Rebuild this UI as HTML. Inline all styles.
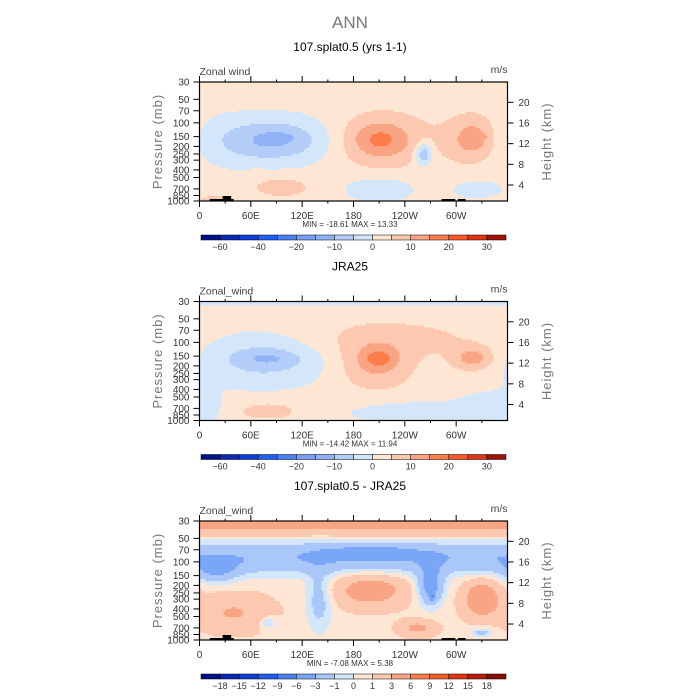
<!DOCTYPE html>
<html><head><meta charset="utf-8"><style>
html,body{margin:0;padding:0;background:#fff;}
svg{display:block;font-family:"Liberation Sans",sans-serif;}
</style></head><body>
<svg id="chart" width="700" height="700" viewBox="0 0 700 700">
<text x="350" y="28" text-anchor="middle" font-size="17" fill="#777">ANN</text>
</svg>
<script>
const colorsMain=['#00108a','#0a28b4','#0c3fd8','#1f5ff5','#4a80f5','#779ff6','#8fb2f7','#b4cdf8','#d4e6fa','#fde6d4','#fcc9b0','#f9a482','#fc7c4a','#f85a26','#e03414','#a01008'];
const colorsDiff=['#00108a','#0a28b4','#0c3fd8','#1f5ff5','#4a80f5','#7aa6f8','#a9c7f8','#d4e6fa','#fde6d4','#fcc9b0','#f9a482','#fc7c4a','#f85a26','#e03414','#b81d0a','#8a0a05'];
const levelsMain=[-60,-50,-40,-30,-20,-15,-10,-5,0,5,10,15,20,25,30];
const labelsMain=['-60','','-40','','-20','','-10','','0','','10','','20','','30'];
const levelsDiff=[-18,-15,-12,-9,-6,-3,-1,0,1,3,6,9,12,15,18];
const labelsDiff=['-18','-15','-12','-9','-6','-3','-1','0','1','3','6','9','12','15','18'];
const pressureTicks=[30,50,70,100,150,200,250,300,400,500,700,850,1000];
const heightTicks=[4,8,12,16,20];
const lonTicks=[0,60,120,180,240,300];
const lonLabels=['0','60E','120E','180','120W','60W'];
// features: [lon, pressure, lonWidth, logPWidth, amplitude]
const bg1=2.5;
const features1=[[75,170,90,0.35,-9],[90,165,50,0.2,-5],[95,150,20,0.05,-2],
[210,170,55,0.35,9],[210,160,30,0.2,6],
[320,160,35,0.33,8],[320,160,18,0.18,5],[330,150,6,0.03,3],
[262,250,10,0.14,-14],[95,650,40,0.15,5],[68,430,6,0.05,4],[15,950,25,0.06,4],
[210,700,45,0.18,-6],[325,720,30,0.12,-6]];
const bg2=2.5;
const features2=[[180,31,1e9,0.05,-4],[225,90,110,0.25,4],[205,190,40,0.3,9],[210,160,18,0.1,7],
[320,160,25,0.15,10],[75,170,75,0.35,-9],[80,160,35,0.1,-5],[10,600,12,0.4,-4],[80,750,40,0.12,5],
[250,800,80,0.15,-6],[340,650,40,0.2,-5]];
const bg3=0.7;
const features3=[[180,32,1e9,0.05,5],[180,40,1e9,0.07,2],[180,90,1e9,0.2,-3.5],[200,75,60,0.1,-2.5],
[20,130,25,0.15,-3],[140,300,15,0.4,-2.5],[270,200,15,0.25,-5],[272,280,3,0.05,-4],
[200,230,40,0.2,4],[330,300,20,0.22,5],[40,450,40,0.22,2.5],[255,700,20,0.1,3],
[330,800,12,0.06,-2.5],[80,600,10,0.08,-2]];
const topo=[[12,40,2],[27,37,5],[283,299,2],[302,311,2]];

const NS='http://www.w3.org/2000/svg';
const svg=document.getElementById('chart');
function mk(tag,attrs,parent){const e=document.createElementNS(NS,tag);for(const k in attrs)e.setAttribute(k,attrs[k]);(parent||svg).appendChild(e);return e;}
const X0=199.5,W=308,H=119;
const L30=Math.log10(30),L1000=Math.log10(1000);
function panel(top,title,varName,bg,feats,levels,labels,colors,mn,mx,showTopo,pname){
  const g=mk('g',{});
  
  
  const xs=lon=>X0+lon/360*W;
  const ys=p=>top+(Math.log10(p)-L30)/(L1000-L30)*H;
  const t=mk('text',{x:350,y:top-31,'text-anchor':'middle','font-size':12,fill:'#000'},g);t.textContent=title;
  
  const v=mk('text',{x:X0,y:top-7,'font-size':10.5,fill:'#444'},g);v.textContent=varName;
  
  const u=mk('text',{x:X0+W,y:top-9,'text-anchor':'end','font-size':10.5,fill:'#444'},g);u.textContent='m/s';
  
  const field=(lon,p)=>{let s=bg;const lp=Math.log10(p);for(const f of feats){let dl=Math.abs(lon-f[0]);if(dl>180)dl=360-dl;s+=f[4]*Math.exp(-Math.pow(dl/f[2],2)-Math.pow((lp-Math.log10(f[1]))/f[3],2));}return s;};
  const bin=val=>{let i=0;while(i<levels.length&&val>=levels[i])i++;return i;};
  const fg=mk('g',{'shape-rendering':'crispEdges'},g);
  
  const cs=2,nx=Math.ceil(W/cs),ny=Math.ceil(H/cs);
  for(let j=0;j<ny;j++){
    const yy=top+j*cs+cs/2;
    const p=Math.pow(10,L30+(yy-top)/H*(L1000-L30));
    let start=0,cur=-1;
    for(let i=0;i<=nx;i++){
      const b=i<nx?bin(field((i*cs+cs/2)/W*360,p)):-2;
      if(b!==cur){
        if(cur>=0){mk('rect',{x:X0+start*cs,y:top+j*cs,width:Math.min((i-start)*cs,W-start*cs),height:Math.min(cs,H-j*cs),fill:colors[cur]},fg);}
        cur=b;start=i;
      }
    }
  }
  if(showTopo){for(const tp of topo){const r=mk('rect',{x:xs(tp[0]),y:top+H-tp[2],width:xs(tp[1])-xs(tp[0]),height:tp[2],fill:'#000'},g);}}
  const fr=mk('rect',{x:X0,y:top,width:W,height:H,fill:'none',stroke:'#000','stroke-width':1.2},g);
  
  for(let lon=0;lon<360;lon+=30){const x=xs(lon);const len=lon%60===0?6:2.5;
    mk('line',{x1:x,x2:x,y1:top,y2:top-len,stroke:'#000'},g);mk('line',{x1:x,x2:x,y1:top+H,y2:top+H+len,stroke:'#000'},g);}
  lonTicks.forEach((lon,i)=>{const tx=mk('text',{x:xs(lon),y:top+H+18,'text-anchor':'middle','font-size':10,fill:'#333'},g);tx.textContent=lonLabels[i];
    });
  pressureTicks.forEach(p=>{const y=ys(p);mk('line',{x1:X0,x2:X0-6,y1:y,y2:y,stroke:'#000'},g);
    const tx=mk('text',{x:X0-10,y:y+3.5,'text-anchor':'end','font-size':10,fill:'#333'},g);tx.textContent=p;
    });
  heightTicks.forEach(h=>{const y=top+123.7-5.17*h;mk('line',{x1:X0+W,x2:X0+W+6,y1:y,y2:y,stroke:'#000'},g);
    const tx=mk('text',{x:X0+W+11,y:y+3.5,'font-size':10,fill:'#333'},g);tx.textContent=h;
    });
  const pl=mk('text',{transform:`translate(162,${top+H/2}) rotate(-90)`,'text-anchor':'middle','font-size':13,fill:'#777','letter-spacing':'1'},g);pl.textContent='Pressure (mb)';
  
  const hl=mk('text',{transform:`translate(551,${top+H/2}) rotate(-90)`,'text-anchor':'middle','font-size':13,fill:'#777','letter-spacing':'1'},g);hl.textContent='Height (km)';
  
  const m=mk('text',{x:350,y:top+H+26,'text-anchor':'middle','font-size':8,fill:'#333','xml:space':'preserve'},g);m.textContent=`MIN =  ${mn}   MAX =  ${mx}`;
  
  const cb=mk('g',{},g);
  const cx0=201,cw=305,cy=top+H+34,bw=cw/16;
  colors.forEach((c,i)=>{mk('rect',{x:cx0+i*bw,y:cy,width:bw,height:5,fill:c,stroke:'#000','stroke-width':0.5},cb);});
  labels.forEach((l,i)=>{if(!l)return;const tx=mk('text',{x:cx0+(i+1)*bw,y:cy+15,'text-anchor':'middle','font-size':9,fill:'#333'},cb);tx.textContent=l.replace('-','\u2212');
    });
}
panel(82,'107.splat0.5 (yrs 1-1)','Zonal wind',bg1,features1,levelsMain,labelsMain,colorsMain,'-18.61',' 13.33',true,'model-panel');
panel(301.5,'JRA25','Zonal_wind',bg2,features2,levelsMain,labelsMain,colorsMain,'-14.42',' 11.94',false,'obs-panel');
panel(521,'107.splat0.5 - JRA25','Zonal_wind',bg3,features3,levelsDiff,labelsDiff,colorsDiff,'-7.08',' 5.38',true,'difference-panel');
</script>
</body></html>
